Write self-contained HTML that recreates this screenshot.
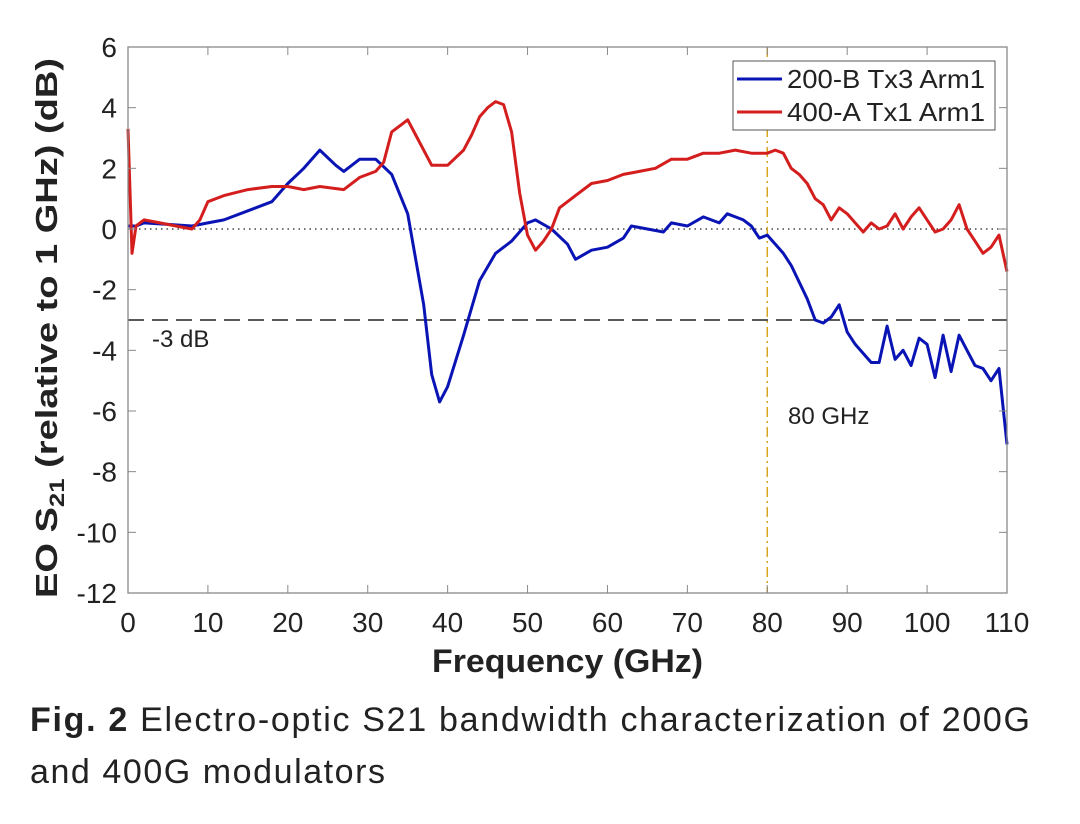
<!DOCTYPE html>
<html><head><meta charset="utf-8"><style>
body{margin:0;background:#fff;}
svg text{font-family:"Liberation Sans",Arial,sans-serif;}
</style></head><body>
<svg id="chart" width="1080" height="819" xmlns="http://www.w3.org/2000/svg">
<rect width="1080" height="819" fill="#fff"/>
<g id="grid"></g>
<g id="series"></g>
<g id="axes"></g>
<text transform="translate(57,328) rotate(-90)" text-anchor="middle" font-size="31" font-weight="bold" fill="#222" textLength="540" lengthAdjust="spacingAndGlyphs">EO S<tspan font-size="21" dy="7">21</tspan><tspan dy="-7">  (relative to 1 GHz)  (dB)</tspan></text>
<text x="432" y="672" font-size="32" font-weight="bold" fill="#222" textLength="271" lengthAdjust="spacingAndGlyphs">Frequency (GHz)</text>
<text x="152" y="347" font-size="24" fill="#222">-3 dB</text>
<text x="788" y="424" font-size="24" fill="#222">80 GHz</text>
<g>
<rect x="733" y="61" width="262" height="69" fill="#fff" stroke="#555" stroke-width="1"/>
<line x1="737" y1="79" x2="782" y2="79" stroke="#0a14b4" stroke-width="3"/>
<text x="787" y="88" font-size="26" fill="#222" textLength="198" lengthAdjust="spacingAndGlyphs">200-B Tx3 Arm1</text>
<line x1="737" y1="112" x2="782" y2="112" stroke="#d41e1e" stroke-width="3"/>
<text x="787" y="121" font-size="26" fill="#222" textLength="198" lengthAdjust="spacingAndGlyphs">400-A Tx1 Arm1</text>
</g>
<text x="30" y="731" font-size="34" fill="#222" textLength="1000" lengthAdjust="spacing"><tspan font-weight="bold">Fig. 2</tspan> Electro-optic S21 bandwidth characterization of 200G</text>
<text x="30" y="783" font-size="34" fill="#222" textLength="355" lengthAdjust="spacing">and 400G modulators</text>
</svg>
<script>
const xTicks=[0,10,20,30,40,50,60,70,80,90,100,110];
const yTicks=[6,4,2,0,-2,-4,-6,-8,-10,-12];
const blueF=[0,1,2,5,8,10,12,15,18,20,22,24,26,27,29,31,33,35,37,38,39,40,42,44,46,48,50,51,53,55,56,58,60,62,63,65,67,68,70,72,74,75,77,78,79,80,82,83,85,86,87,88,89,90,91,93,94,95,96,97,98,99,100,101,102,103,104,105,106,107,108,109,110];
const blueV=[0.1,0.1,0.2,0.15,0.1,0.2,0.3,0.6,0.9,1.5,2.0,2.6,2.1,1.9,2.3,2.3,1.8,0.5,-2.5,-4.8,-5.7,-5.2,-3.5,-1.7,-0.8,-0.4,0.2,0.3,0.0,-0.5,-1.0,-0.7,-0.6,-0.3,0.1,0.0,-0.1,0.2,0.1,0.4,0.2,0.5,0.3,0.1,-0.3,-0.2,-0.8,-1.2,-2.3,-3.0,-3.1,-2.9,-2.5,-3.4,-3.8,-4.4,-4.4,-3.2,-4.3,-4.0,-4.5,-3.6,-3.8,-4.9,-3.5,-4.7,-3.5,-4.0,-4.5,-4.6,-5.0,-4.6,-7.1];
const redF=[0,0.5,1,2,4,6,8,9,10,12,15,18,20,22,24,27,29,31,32,33,34,35,36,38,40,42,43,44,45,46,47,48,49,50,51,52,53,54,56,58,60,62,64,66,68,70,72,74,76,78,80,81,82,83,84,85,86,87,88,89,90,91,92,93,94,95,96,97,98,99,100,101,102,103,104,105,106,107,108,109,110];
const redV=[3.3,-0.8,0.1,0.3,0.2,0.1,0.0,0.3,0.9,1.1,1.3,1.4,1.4,1.3,1.4,1.3,1.7,1.9,2.2,3.2,3.4,3.6,3.1,2.1,2.1,2.6,3.1,3.7,4.0,4.2,4.1,3.2,1.2,-0.2,-0.7,-0.4,0.0,0.7,1.1,1.5,1.6,1.8,1.9,2.0,2.3,2.3,2.5,2.5,2.6,2.5,2.5,2.6,2.5,2.0,1.8,1.5,1.0,0.8,0.3,0.7,0.5,0.2,-0.1,0.2,0.0,0.1,0.5,0.0,0.4,0.7,0.3,-0.1,0.0,0.3,0.8,0.0,-0.4,-0.8,-0.6,-0.2,-1.4];
const X0=128,X1=1007,Y0=47,Y1=593;
const sx=f=>X0+(f-0)/(110-0)*(X1-X0);
const sy=v=>Y1-(v+12)/(18)*(Y1-Y0);
const NS="http://www.w3.org/2000/svg";
function mk(t,a,p){const e=document.createElementNS(NS,t);for(const k in a)e.setAttribute(k,a[k]);p.appendChild(e);return e;}
const grid=document.getElementById('grid'),ser=document.getElementById('series'),ax=document.getElementById('axes');
let l=mk('line',{x1:X0,x2:X1,y1:sy(0),y2:sy(0),stroke:'#222','stroke-width':1.3,'stroke-dasharray':'1.5 4'},grid);


l=mk('line',{x1:X0,x2:X1,y1:sy(-3),y2:sy(-3),stroke:'#222','stroke-width':1.5,'stroke-dasharray':'16 8'},grid);


l=mk('line',{x1:sx(80),x2:sx(80),y1:Y0,y2:Y1,stroke:'#d8a520','stroke-width':1.5,'stroke-dasharray':'10 4 2 4'},grid);


function path(F,V,c,name){const d=F.map((f,i)=>(i?'L':'M')+sx(f).toFixed(1)+' '+sy(V[i]).toFixed(1)).join(' ');
const p=mk('path',{d:d,fill:'none',stroke:c,'stroke-width':3,'stroke-linejoin':'round'},ser);

}
path(blueF,blueV,'#0a14b4','series-200b-tx3-arm1');
path(redF,redV,'#d41e1e','series-400a-tx1-arm1');
const box=mk('rect',{x:X0,y:Y0,width:X1-X0,height:Y1-Y0,fill:'none',stroke:'#888','stroke-width':1.3},ax);


xTicks.forEach(t=>{mk('line',{x1:sx(t),x2:sx(t),y1:Y1,y2:Y1-8,stroke:'#888'},ax);mk('line',{x1:sx(t),x2:sx(t),y1:Y0,y2:Y0+8,stroke:'#888'},ax);
const tx=mk('text',{x:sx(t),y:632,'text-anchor':'middle','font-size':28,fill:'#222'},ax);tx.textContent=t;

});
yTicks.forEach(t=>{mk('line',{x1:X0,x2:X0+8,y1:sy(t),y2:sy(t),stroke:'#888'},ax);mk('line',{x1:X1,x2:X1-8,y1:sy(t),y2:sy(t),stroke:'#888'},ax);
const tx=mk('text',{x:117,y:sy(t)+10,'text-anchor':'end','font-size':28,fill:'#222'},ax);tx.textContent=t;

});
</script>
</body></html>
